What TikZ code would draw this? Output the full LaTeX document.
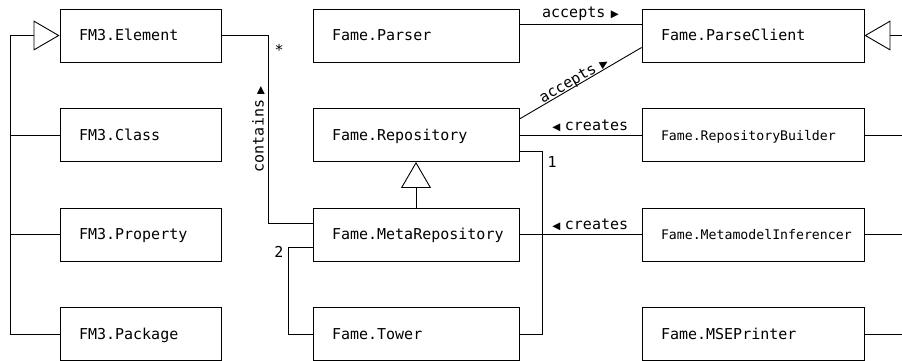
\documentclass[tikz,border=0pt]{standalone}
\usepackage{fontspec}
\setmonofont{DejaVu Sans Mono}
\newfontfamily\symfont{DejaVu Sans}
\usetikzlibrary{arrows.meta}

\newcommand{\umlfont}{\ttfamily\fontsize{15}{18}\selectfont}
\newcommand{\umlsmall}{\ttfamily\fontsize{13.2}{16}\selectfont}
\newcommand{\rtri}{{\symfont\fontsize{10.4}{10}\selectfont ▶}}
\newcommand{\ltri}{{\symfont\fontsize{10.4}{10}\selectfont ◀}}

\tikzset{
  umlclass/.style={draw, line width=0.9pt, minimum height=53pt,
    inner xsep=19pt, inner ysep=0pt, align=left, font=\umlfont,
    text height=10.9pt, text depth=0pt},
  colA/.style={umlclass, text width=123pt},
  colB/.style={umlclass, text width=168pt},
  colC/.style={umlclass, text width=184pt},
  assoc/.style={line width=0.9pt},
  inherit/.style={line width=0.9pt, -{Triangle[open, length=26pt, width=30pt]}},
  rolelabel/.style={font=\umlfont, inner sep=3pt},
  mult/.style={font=\umlfont, inner sep=3pt}
}

\begin{document}
\begin{tikzpicture}[x=1pt, y=-1pt]
  \useasboundingbox (0,0) rectangle (902,360);
  \clip (0,0) rectangle (902,360);

  % FM3 metamodel
  \node[colA] (Element)  at (140.5, 35.5) {FM3.Element};
  \node[colA] (Class)    at (140.5, 135)  {FM3.Class};
  \node[colA] (Property) at (140.5, 234.5) {FM3.Property};
  \node[colA] (Package)  at (140.5, 334)  {FM3.Package};

  % repositories
  \node[colB] (Parser)         at (416, 35.5)  {Fame.Parser};
  \node[colB] (Repository)     at (416, 135)   {Fame.Repository};
  \node[colB] (MetaRepository) at (416, 234.5) {Fame.MetaRepository};
  \node[colB] (Tower)          at (416, 334)   {Fame.Tower};

  % clients
  \node[colC] (ParseClient)         at (753, 35.5)  {Fame.ParseClient};
  \node[colC, font=\umlsmall] (RepositoryBuilder)   at (753, 135)   {Fame.RepositoryBuilder};
  \node[colC, font=\umlsmall] (MetamodelInferencer) at (753, 234.5) {Fame.MetamodelInferencer};
  \node[colC] (MSEPrinter)          at (753, 334)   {Fame.MSEPrinter};

  % generalizations
  \draw[inherit] (Package.west) -- ++(-49,0) |- (Element.west);
  \draw[assoc] (Class.west) -- ++(-49,0);
  \draw[assoc] (Property.west) -- ++(-49,0);
  \draw[inherit] (MetaRepository.north) -- (Repository.south);
  \draw[inherit] (MSEPrinter.east) -- ++(49,0) |- (ParseClient.east);
  \draw[assoc] (RepositoryBuilder.east) -- ++(49,0);
  \draw[assoc] (MetamodelInferencer.east) -- ++(49,0);

  % associations
  \draw[assoc] (Element.east) -- ++(47,0) coordinate (starcorner)
    |- node[rolelabel, pos=0.25, rotate=90, anchor=south] {contains\hspace{5.5pt}\rtri}
    ([yshift=11.5pt]MetaRepository.west);
  \node[mult, anchor=north west, xshift=3pt, yshift=-6pt] (star) at (starcorner) {*};

  \draw[assoc] ([yshift=-12.5pt]MetaRepository.west) -- ++(-24,0) coordinate (twocorner)
    |- (Tower.west);
  \node[mult, anchor=north east, xshift=-2pt, yshift=3.5pt] (two) at (twocorner) {2};

  \draw[assoc] ([yshift=-16pt]Repository.east) -- ++(23,0) coordinate (onecorner)
    |- (Tower.east);
  \node[mult, anchor=north west, xshift=2pt, yshift=-2pt] (one) at (onecorner) {1};

  \draw[assoc] ([yshift=11.5pt]Parser.east) --
    node[rolelabel, above] {accepts\hspace{5.5pt}\rtri} ([yshift=11.5pt]ParseClient.west);
  \draw[assoc] ([yshift=16pt]Repository.east) --
    node[rolelabel, sloped, above, pos=0.47, inner ysep=-2pt] {accepts\hspace{5.5pt}\rtri}
    ([yshift=-12pt]ParseClient.west);
  \draw[assoc] (RepositoryBuilder.west) --
    node[rolelabel, above, pos=0.42] {\ltri\hspace{4.5pt}creates} (Repository.east);
  \draw[assoc] (MetamodelInferencer.west) --
    node[rolelabel, above, pos=0.42] {\ltri\hspace{4.5pt}creates} (MetaRepository.east);
\end{tikzpicture}
\end{document}
